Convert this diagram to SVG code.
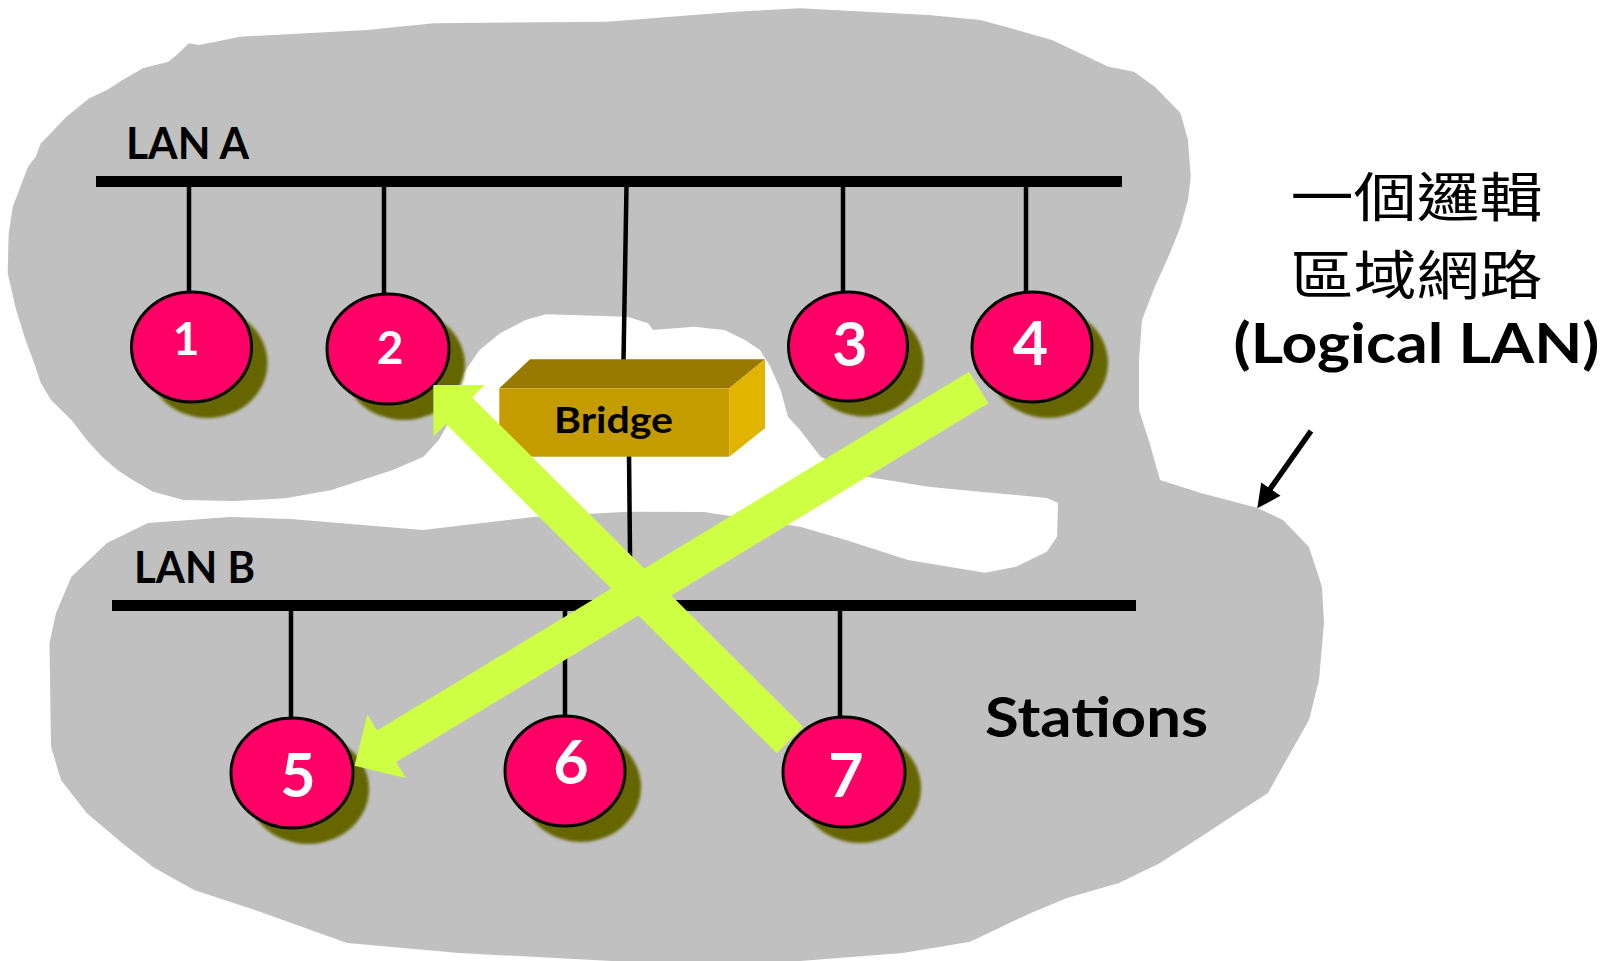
<svg xmlns="http://www.w3.org/2000/svg" width="1606" height="961" viewBox="0 0 1606 961">
<style>
.lbl{font-family:Lato,"Liberation Sans",sans-serif;font-weight:700;fill:#000}
.num{font-family:Lato,"Liberation Sans",sans-serif;font-weight:700;fill:#fff;text-anchor:middle}
.cjk{font-family:"Noto Sans CJK TC","Noto Sans CJK SC",sans-serif;font-weight:400;fill:#000;text-anchor:middle}
.st{fill:#FF0066;stroke:#000;stroke-width:3}
.sh{fill:#666600;filter:url(#blur)}
.bus{stroke:#000;stroke-width:11;fill:none}
.drop{stroke:#000;stroke-width:4.5;fill:none}
.flow{fill:#CFFF45;stroke:none}
</style>
<defs>
<filter id="blur" x="-10%" y="-10%" width="120%" height="120%"><feGaussianBlur stdDeviation="1.5"/></filter>
</defs>
<rect width="1606" height="961" fill="#fff"/>
<g id="logical-lan-area">
<polygon fill="#C0C0C0" points="178.6,53.3 188.8,43.3 199,45 240,36.7 367,30 433.7,23.3 607,21.7 734.7,11.7 800,8.3 928.5,15 980,20 1005.6,26.7 1052,40 1108.5,66.7 1134,71.7 1154.8,86.7 1180.5,113 1188,140 1190.7,176.7 1188,200 1180.5,226.7 1170,253 1154.8,286.7 1142,320 1139,360 1139,410 1149.6,443 1160,480 1201,493 1257.6,508 1283,520 1309,547 1322,587 1324,623 1319,680 1309,720 1288,757 1268,793 1237,813 1201,836.7 1160,863 1119,883 1067,898 1031,913 970,941.7 903,953 800,961 612,961 459,953 347,943 255,910 194,890 153,867 122,843 86.7,813 61,780 51,746.7 49.5,643 56,613 71.4,576.7 107,543 148,523 229.6,517 290.8,519 423,530 535.7,516.7 627.5,511.7 704,512 800,526.7 846,540 908,560 985,572.7 1016,566.7 1046.8,551.7 1057,536.7 1058,503 1047,498 980,491.7 928.5,486.7 866.8,476.7 820.6,456.7 800,430 788,416.7 780.6,390 770.4,366.7 760,350 745,340 724.5,330 694,326.7 653,330 648,323.3 627.6,316.7 546,314.3 525.5,320 500,333.3 479.6,350 459,380 449,416.7 446.4,426.7 438.8,440 423.5,456.7 392.9,470 362,480 331.6,490 285.7,498.3 234.7,501 183.7,500 153,491.7 132.7,480 117.3,470 102,456.7 86.7,440 71.4,420 51,400 40.8,383 33,360 25.5,340 15.3,306.7 7.7,273 8.7,233 12.8,206.7 20.4,186.7 28,166.7 35.7,156.7 40.8,143.3 51,133 66.3,116.7 89.3,98.3 107,90 122.4,80 142.9,68.3 168.4,61.7"/>
</g>
<g id="connectors">
<line class="bus" x1="96" y1="181.5" x2="1122" y2="181.5"/>
<line class="bus" x1="112" y1="605.5" x2="1136" y2="605.5"/>
<line class="drop" x1="189" y1="186" x2="189" y2="292"/>
<line class="drop" x1="384" y1="186" x2="384" y2="295"/>
<line class="drop" x1="626.5" y1="186" x2="623.5" y2="361"/>
<line class="drop" x1="843" y1="186" x2="843" y2="292"/>
<line class="drop" x1="1026" y1="186" x2="1026" y2="292"/>
<line class="drop" x1="629" y1="454" x2="630.5" y2="602"/>
<line class="drop" x1="291" y1="610" x2="291" y2="718"/>
<line class="drop" x1="565" y1="610" x2="565" y2="716"/>
<line class="drop" x1="840" y1="610" x2="840" y2="718"/>
</g>
<g id="bridge">
<polygon fill="#997A00" points="499.3,388.3 530,359.3 765,359.3 729.3,388.3"/>
<rect x="499.3" y="388.3" width="230" height="68.4" fill="#C49C00"/>
<polygon fill="#E0B400" points="729.3,388.3 765,359.3 765,428.3 729.3,456.7"/>
<text class="lbl" x="554" y="433.3" font-size="36" textLength="119" lengthAdjust="spacingAndGlyphs">Bridge</text>
</g>
<g id="station-1"><ellipse class="sh" cx="207.5" cy="363" rx="60" ry="55"/><ellipse class="st" cx="191.5" cy="347" rx="60" ry="55"/><text class="num" x="186" y="354.5" font-size="46">1</text></g>
<g id="station-2"><ellipse class="sh" cx="404" cy="365" rx="61" ry="55"/><ellipse class="st" cx="388" cy="349" rx="61" ry="55"/><text class="num" x="390" y="363.5" font-size="46">2</text></g>
<g id="station-3"><ellipse class="sh" cx="864" cy="362" rx="59.5" ry="54.5"/><ellipse class="st" cx="848" cy="346.5" rx="59.5" ry="54.5"/><text class="num" x="850" y="366" font-size="61">3</text></g>
<g id="station-4"><ellipse class="sh" cx="1048" cy="363" rx="60" ry="55"/><ellipse class="st" cx="1032" cy="347" rx="60" ry="55"/><text class="num" x="1030.5" y="365" font-size="61">4</text></g>
<g id="station-5"><ellipse class="sh" cx="308" cy="789" rx="61" ry="55"/><ellipse class="st" cx="292" cy="773" rx="61" ry="55"/><text class="num" x="298" y="797" font-size="61">5</text></g>
<g id="station-6"><ellipse class="sh" cx="581" cy="787" rx="60" ry="55"/><ellipse class="st" cx="565" cy="771" rx="60" ry="55"/><text class="num" x="571" y="784" font-size="61">6</text></g>
<g id="station-7"><ellipse class="sh" cx="860" cy="788" rx="61" ry="55"/><ellipse class="st" cx="844" cy="772" rx="61" ry="55"/><text class="num" x="846" y="796.5" font-size="61">7</text></g>
<g id="flows">
<polygon class="flow" points="433.3,385 484.9,384.9 472.4,397.5 803.2,726.7 776.8,753.3 446,424 433.5,436.6"/>
<polygon class="flow" points="969.1,371.7 377.1,730.5 367.5,714.6 354.6,765.7 405.9,777.9 396.3,762.1 988.3,403.3"/>
</g>
<g id="labels">
<text class="lbl" x="126" y="159" font-size="43" textLength="123" lengthAdjust="spacingAndGlyphs">LAN A</text>
<text class="lbl" x="134" y="583.3" font-size="44" textLength="121" lengthAdjust="spacingAndGlyphs">LAN B</text>
<text class="lbl" x="985" y="736.7" font-size="55" textLength="223" lengthAdjust="spacingAndGlyphs">Stations</text>
</g>
<g id="logical-lan-label">
<text class="cjk" x="1416.5" y="217" font-size="53.5" textLength="252" lengthAdjust="spacingAndGlyphs">一個邏輯</text>
<text class="cjk" x="1416.5" y="295" font-size="53.5" textLength="252" lengthAdjust="spacingAndGlyphs">區域網路</text>
<text class="lbl" x="1416.5" y="363.3" font-size="55" text-anchor="middle" textLength="366" lengthAdjust="spacingAndGlyphs">(Logical LAN)</text>
<line x1="1311" y1="431" x2="1268" y2="492" stroke="#000" stroke-width="5.5"/>
<polygon fill="#000" points="1257.3,508.3 1261.2,482.5 1280.5,495.8"/>
</g>
</svg>
